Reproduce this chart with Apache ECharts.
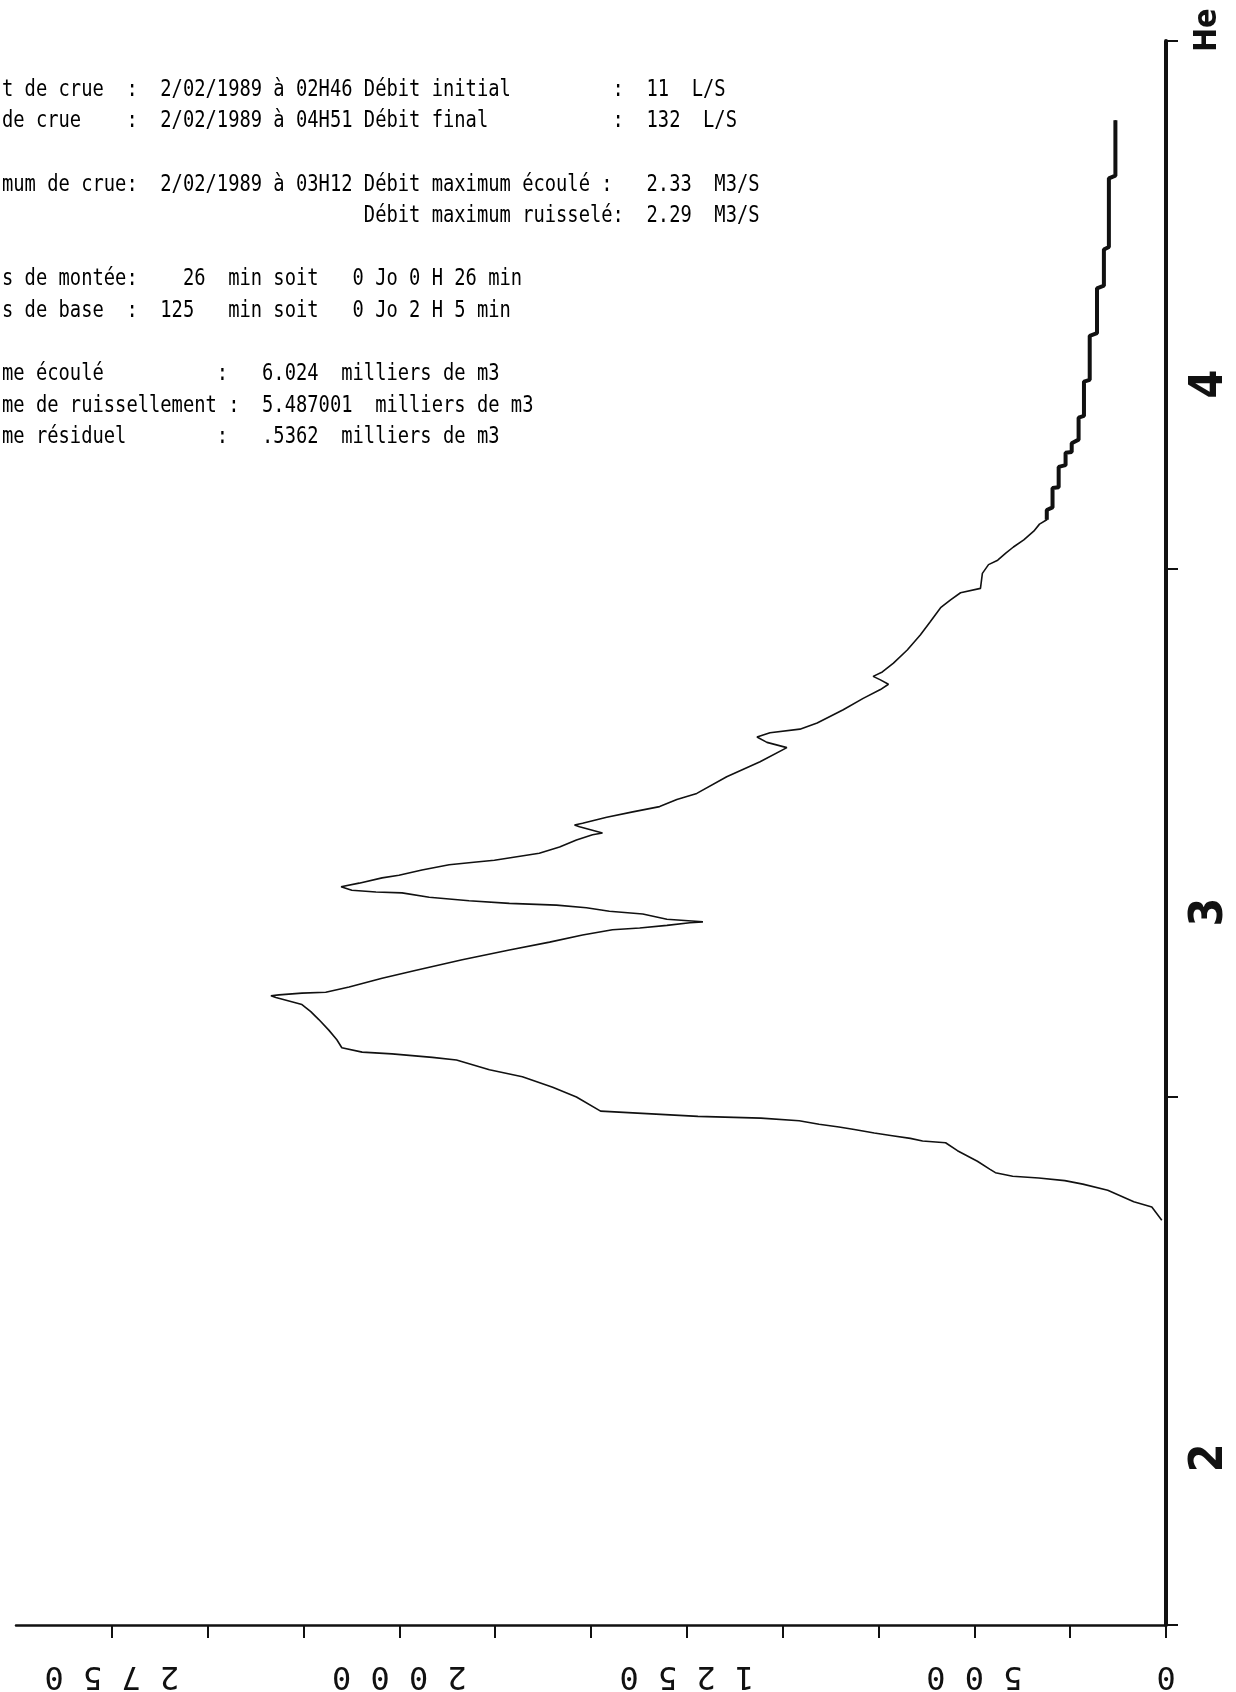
<!DOCTYPE html>
<html>
<head>
<meta charset="utf-8">
<title>Crue du 2/02/1989</title>
<script src="https://cdn.jsdelivr.net/npm/echarts@6/dist/echarts.min.js"></script>
<style>
    html, body { margin: 0; padding: 0; background: #fff; }
    #charts { width: 1236px; height: 1692px; }
</style>
</head>
<body>
<div id="charts"></div>
<script>
// temps en minutes depuis 02H00
var tMin = [
    46.0, 47.5, 48.1, 49.4, 50.1, 50.5, 50.8, 51.0, 51.4, 51.8,
    52.7, 53.9, 54.8, 55.0, 55.3, 55.6, 55.9, 56.3, 56.6, 56.9,
    57.3, 57.6, 57.8, 58.2, 58.4, 60.0, 61.1, 62.3, 63.1, 64.2,
    64.5, 64.9, 65.1, 65.6, 66.5, 67.6, 68.8, 69.7, 70.5, 71.3,
    71.5, 71.6, 71.8, 71.9, 72.5, 73.5, 74.4, 75.6, 76.7, 77.6,
    78.4, 79.0, 79.2, 79.5, 79.8, 79.9, 80.0, 80.2, 80.8, 81.1,
    81.5, 81.8, 82.0, 82.3, 82.7, 83.2, 83.3, 83.5, 83.9, 84.3,
    84.9, 85.2, 85.8, 86.4, 86.7, 86.9, 87.7, 88.4, 89.2, 89.8,
    90.0, 90.7, 90.9, 91.1, 91.8, 92.4, 93.0, 93.8, 94.5, 96.4,
    98.1, 99.7, 100.3, 100.9, 101.4, 101.8, 102.5, 104.0, 105.3, 106.3,
    106.9, 107.4, 107.8, 108.3, 109.3, 110.8, 112.5, 114.0, 115.6, 116.5,
    117.3, 117.8, 119.5, 120.5, 121.0, 121.8, 122.5, 123.3, 124.3, 125.1,
    125.6, 126.7, 127.0, 129.2, 129.3, 131.6, 131.8, 133.2, 133.3, 134.3,
    134.7, 137.2, 137.4, 141.3, 141.5, 146.5, 146.8, 151.9, 152.2, 156.3,
    156.6, 164.4, 164.7, 171.0
];
// débit en L/S
var debit = [
    11, 37, 84, 152, 217, 264, 332, 400, 445, 460,
    492, 544, 575, 635, 667, 714, 761, 813, 853, 905,
    957, 1057, 1221, 1391, 1475, 1538, 1600, 1679, 1765, 1851,
    1914, 2019, 2097, 2150, 2163, 2184, 2210, 2231, 2254, 2322,
    2335, 2314, 2254, 2192, 2131, 2045, 1956, 1836, 1713, 1608,
    1522, 1444, 1373, 1302, 1242, 1208, 1237, 1302, 1365, 1452,
    1512, 1590, 1713, 1818, 1922, 1993, 2061, 2124, 2152, 2105,
    2045, 2001, 1941, 1870, 1799, 1752, 1635, 1582, 1538, 1496,
    1470, 1530, 1543, 1522, 1459, 1391, 1321, 1276, 1224, 1146,
    1059, 989, 1041, 1067, 1033, 955, 910, 842, 790, 745,
    724, 745, 764, 740, 711, 675, 641, 615, 588, 562,
    536, 484, 479, 463, 439, 418, 398, 371, 345, 330,
    311, 311, 296, 296, 280, 280, 262, 262, 246, 246,
    228, 228, 214, 214, 199, 199, 180, 180, 162, 162,
    149, 149, 132, 132
];
var debitTicks = [0, 250, 500, 750, 1000, 1250, 1500, 1750, 2000, 2250, 2500, 2750];
var debitLabels = [0, 500, 1250, 2000, 2750];
var heureTicks = [0, 60, 120, 180];
var heureLabels = [19, 81, 141]; // chiffres 2, 3, 4 décalés au-dessus des repères

var entete = [
    "t de crue  :  2/02/1989 à 02H46 Débit initial         :  11  L/S",
    "de crue    :  2/02/1989 à 04H51 Débit final           :  132  L/S",
    "",
    "mum de crue:  2/02/1989 à 03H12 Débit maximum écoulé :   2.33  M3/S",
    "                                Débit maximum ruisselé:  2.29  M3/S",
    "",
    "s de montée:    26  min soit   0 Jo 0 H 26 min",
    "s de base  :  125   min soit   0 Jo 2 H 5 min",
    "",
    "me écoulé          :   6.024  milliers de m3",
    "me de ruissellement :  5.487001  milliers de m3",
    "me résiduel        :   .5362  milliers de m3"
];

var chartDiv = document.getElementById('charts');
var charts = echarts.init(chartDiv);

var points = [], queue = [];
for (var i = 0; i < tMin.length; i++) {
    points.push([debit[i], tMin[i]]);
    if (tMin[i] >= 125.6) {
        queue.push([debit[i], tMin[i]]);
    }
}

var texts = [];
for (var j = 0; j < entete.length; j++) {
    if (!entete[j]) continue;
    texts.push({
        type: 'text',
        x: 2,
        y: 90 + j * 31.6,
        scaleY: 1.2,
        silent: true,
        style: {
            text: entete[j],
            font: '18.8px "DejaVu Sans Mono"',
            fill: '#000',
            textAlign: 'left',
            textVerticalAlign: 'middle',
            verticalAlign: 'middle'
        }
    });
}

var option = {
    animation: false,
    backgroundColor: '#fff',
    grid: { left: 16, right: 70, top: 41, bottom: 67, containLabel: false },
    xAxis: {
        type: 'value',
        inverse: true,
        min: 0,
        max: 3000,
        position: 'bottom',
        splitLine: { show: false },
        axisLine: { lineStyle: { color: '#111', width: 2.5 } },
        axisTick: { customValues: debitTicks, length: 13, lineStyle: { color: '#111', width: 2 } },
        axisLabel: {
            customValues: debitLabels,
            rotate: 180,
            margin: 34,
            color: '#111',
            fontFamily: 'DejaVu Sans Mono',
            fontSize: 32,
            formatter: function (v) {
                return String(v).split('').join(' ');
            }
        }
    },
    yAxis: [
        {
            type: 'value',
            min: 0,
            max: 180,
            position: 'right',
            splitLine: { show: false },
            axisLine: { lineStyle: { color: '#111', width: 4 } },
            axisTick: { customValues: heureTicks, length: 12, lineStyle: { color: '#111', width: 2 } },
            axisLabel: {
                customValues: heureLabels,
                rotate: 90,
                margin: 21,
                color: '#111',
                fontFamily: 'DejaVu Sans Condensed',
                fontWeight: 'bold',
                fontSize: 46,
                formatter: function (v) {
                    return String(Math.floor(v / 60) + 2);
                }
            }
        },
        {
            // axe fantôme, seulement pour porter le titre "He" à droite
            type: 'value',
            min: 0,
            max: 180,
            position: 'right',
            offset: 42,
            splitLine: { show: false },
            axisLine: { show: false },
            axisTick: { show: false },
            axisLabel: { show: false },
            name: 'He',
            nameLocation: 'end',
            nameGap: -11,
            nameRotate: 90,
            nameTextStyle: {
                color: '#111',
                fontFamily: 'DejaVu Sans Condensed',
                fontWeight: 'bold',
                fontSize: 32
            }
        }
    ],
    graphic: { elements: texts },
    series: [
        {
            type: 'line',
            data: points,
            symbol: 'none',
            lineStyle: { color: '#111', width: 1.6 }
        },
        {
            type: 'line',
            data: queue,
            symbol: 'none',
            lineStyle: { color: '#111', width: 4 }
        }
    ]
};
charts.setOption(option);
</script>
</body>
</html>
